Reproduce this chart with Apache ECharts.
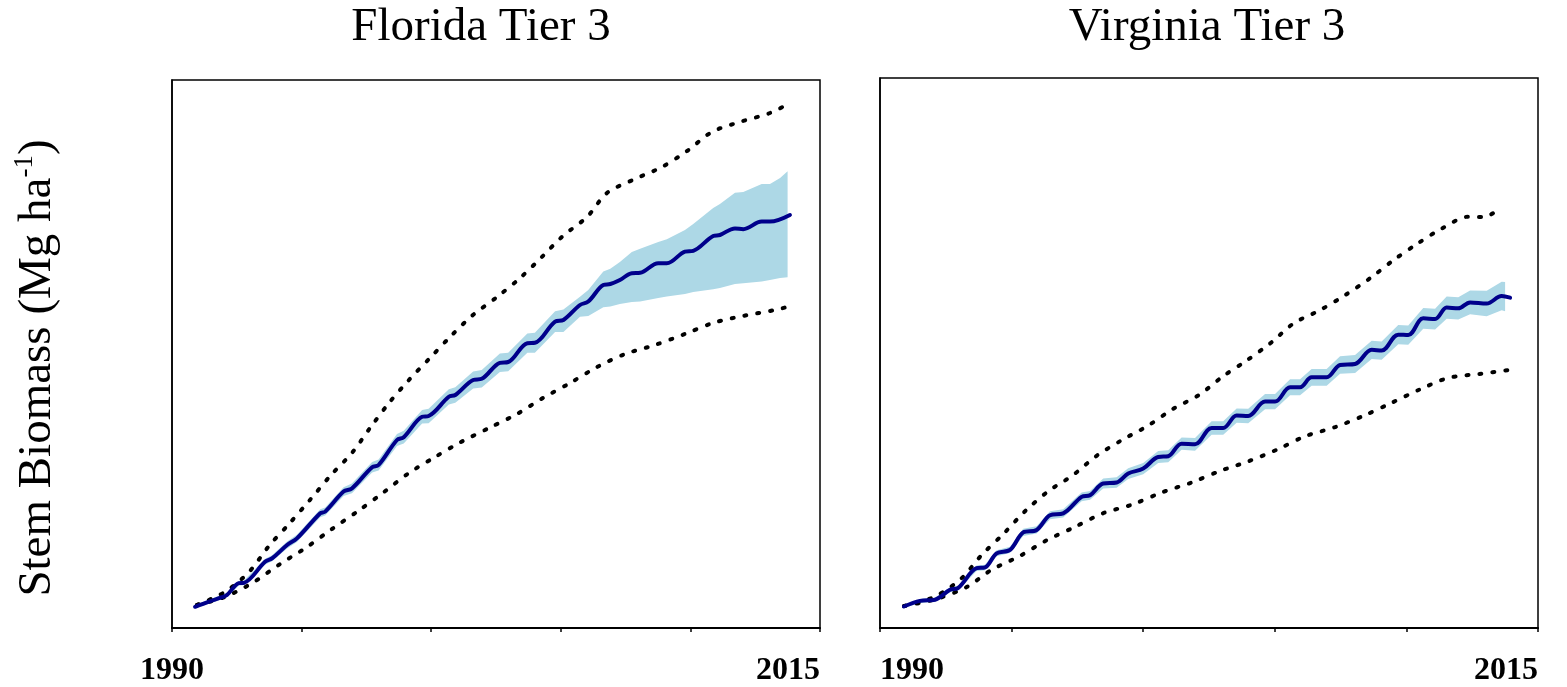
<!DOCTYPE html>
<html>
<head>
<meta charset="utf-8">
<script src="https://cdn.jsdelivr.net/npm/echarts@6/dist/echarts.min.js"></script>
<style>
html,body{margin:0;padding:0;background:#fff;}
#chart{width:1567px;height:687px;}
</style>
</head>
<body>
<div id="chart"></div>
<script>
// ---------------- DATA ----------------
const panelTitles = ['Florida Tier 3', 'Virginia Tier 3'];
const yAxisTitle = 'Stem Biomass (Mg ha';
const yAxisSup = '-1';
const xTickLabels = [1990, 2015];

// Florida: mean trajectory [year, biomass]
const flMean = [[1990.89,5.3],[1991.43,6.6],[1991.93,7.7],[1992.12,8.25],[1992.58,11.2],[1992.78,11.3],[1993.60,16.6],[1993.86,17.4],[1994.44,20.75],[1994.82,22.4],[1995.72,28.7],[1995.91,29.1],[1996.62,34.1],[1996.94,34.9],[1997.72,40.2],[1997.97,40.75],[1998.68,47.0],[1998.94,47.7],[1999.65,52.8],[1999.90,53.0],[2000.68,57.8],[2000.93,58.25],[2001.62,62.0],[2001.95,62.3],[2002.65,66.3],[2002.97,66.5],[2003.71,71.2],[2004.00,71.3],[2004.78,76.6],[2005.10,77.0],[2005.74,80.75],[2006.06,81.6],[2006.64,85.75],[2006.91,86.0],[2007.28,87.0],[2007.74,88.7],[2008.06,88.8],[2008.76,91.2],[2009.09,91.2],[2009.79,94.1],[2010.11,94.3],[2010.88,98.0],[2011.14,98.25],[2011.72,99.9],[2012.04,99.7],[2012.75,101.6],[2013.07,101.6],[2013.84,103.25]];
// Florida: uncertainty band [year, lower, upper]
const flBand = [[1990.89,4.9,5.7],[1991.43,6.1,7.1],[1991.93,7.2,8.3],[1992.12,7.7,8.8],[1992.58,10.6,11.8],[1992.78,10.7,11.9],[1993.60,15.9,17.3],[1993.86,16.7,18.2],[1994.44,19.9,21.6],[1994.82,21.5,23.3],[1995.72,27.7,29.7],[1995.91,28.1,30.1],[1996.62,33.0,35.2],[1996.94,33.7,36.1],[1997.72,38.9,41.5],[1997.97,39.4,42.1],[1998.68,45.5,48.5],[1998.94,46.1,49.3],[1999.65,51.1,54.5],[1999.90,51.2,54.8],[2000.68,55.9,59.7],[2000.93,56.3,60.2],[2001.62,59.9,64.1],[2001.95,60.1,64.5],[2002.65,64.0,68.6],[2002.97,64.2,68.8],[2003.71,68.8,73.6],[2004.00,68.8,73.8],[2004.78,74.0,79.2],[2005.10,74.0,79.6],[2005.74,77.8,82.8],[2006.06,78.0,84.5],[2006.64,80.2,89.1],[2006.91,80.4,89.8],[2007.28,81.0,91.5],[2007.74,81.5,94.0],[2008.06,81.6,94.8],[2008.76,82.5,96.5],[2009.09,82.9,97.2],[2009.79,83.5,99.5],[2010.11,84.0,101.0],[2010.88,84.7,105.0],[2011.14,85.0,106.0],[2011.72,86.0,108.8],[2012.04,86.2,109.0],[2012.75,86.6,111.0],[2013.07,87.0,111.0],[2013.46,87.5,112.5],[2013.75,87.7,114.2]];
// Florida: upper and lower reference (dotted)
const flUpper = [[1990.96,5.75],[1992.04,9.0],[1992.97,14.0],[1993.74,20.5],[1994.51,26.0],[1995.32,32.0],[1996.10,38.0],[1996.94,43.75],[1997.64,50.0],[1998.37,56.25],[1999.14,62.0],[1999.95,67.5],[2000.80,73.25],[2001.61,78.25],[2002.54,82.75],[2003.43,87.5],[2004.27,92.75],[2005.08,98.0],[2006.01,102.75],[2006.78,108.75],[2007.86,112.25],[2008.90,115.25],[2009.87,119.25],[2010.83,124.0],[2011.91,126.5],[2013.07,128.75],[2013.77,131.0]];
const flLower = [[1990.96,5.75],[1992.04,7.75],[1993.16,11.5],[1994.17,16.0],[1995.21,20.25],[1996.17,24.75],[1997.18,29.25],[1998.18,34.0],[1999.14,38.75],[2000.15,42.75],[2001.15,46.5],[2002.23,50.0],[2003.31,53.5],[2004.31,57.5],[2005.36,61.25],[2006.40,65.25],[2007.48,68.5],[2008.63,70.75],[2009.79,73.5],[2010.87,76.25],[2012.02,78.0],[2013.26,79.5],[2013.88,80.5]];

// Virginia
const vaMean = [[1990.91,5.4],[1991.52,6.8],[1992.09,7.1],[1992.66,9.6],[1992.96,10.0],[1993.67,15.0],[1993.99,15.2],[1994.43,18.75],[1994.94,19.6],[1995.44,24.0],[1995.95,24.6],[1996.46,28.3],[1996.96,28.75],[1997.66,32.9],[1997.98,33.3],[1998.48,36.25],[1998.99,36.5],[1999.43,38.75],[2000.00,40.0],[2000.57,42.9],[2000.95,43.1],[2001.46,46.25],[2001.97,46.1],[2002.60,50.2],[2003.04,50.2],[2003.55,53.3],[2003.99,53.2],[2004.63,56.8],[2005.01,56.8],[2005.58,60.4],[2005.96,60.4],[2006.40,62.9],[2006.97,62.9],[2007.48,66.0],[2008.05,66.25],[2008.68,69.8],[2009.06,69.6],[2009.69,73.6],[2010.07,73.5],[2010.64,77.7],[2011.09,77.5],[2011.53,80.4],[2011.97,80.2],[2012.42,81.7],[2013.05,81.4],[2013.62,83.3],[2013.94,82.9]];
const vaBand = [[1990.91,5.0,5.8],[1991.52,6.3,7.3],[1992.09,6.6,7.6],[1992.66,9.0,10.2],[1992.96,9.4,10.6],[1993.67,14.3,15.7],[1993.99,14.5,15.9],[1994.43,18.0,19.5],[1994.94,18.8,20.4],[1995.44,23.1,24.9],[1995.95,23.7,25.5],[1996.46,27.3,29.3],[1996.96,27.7,29.8],[1997.66,31.8,34.0],[1997.98,32.2,34.4],[1998.48,35.0,37.5],[1998.99,35.2,37.8],[1999.43,37.4,40.1],[2000.00,38.6,41.4],[2000.57,41.4,44.4],[2000.95,41.6,44.6],[2001.46,44.7,47.8],[2001.97,44.5,47.7],[2002.60,48.5,51.9],[2003.04,48.5,51.9],[2003.55,51.5,55.1],[2003.99,51.4,55.0],[2004.63,54.9,58.7],[2005.01,54.9,58.7],[2005.58,58.4,62.4],[2005.96,58.4,62.4],[2006.40,60.8,65.0],[2006.97,60.8,65.0],[2007.48,63.8,68.2],[2008.05,64.0,68.5],[2008.68,67.5,72.1],[2009.06,67.3,71.9],[2009.69,71.2,76.0],[2010.07,71.1,75.9],[2010.64,75.1,80.3],[2011.09,74.9,80.1],[2011.53,77.6,83.2],[2011.97,77.4,83.0],[2012.42,78.7,84.7],[2013.05,78.2,84.6],[2013.62,79.7,86.9],[2013.75,79.5,86.8]];
const vaUpper = [[1990.91,5.5],[1992.09,7.9],[1993.10,12.5],[1993.86,18.3],[1994.71,23.75],[1995.51,29.3],[1996.39,34.3],[1997.32,38.3],[1998.23,43.2],[1999.18,47.1],[2000.19,50.8],[2001.14,55.0],[2002.13,58.5],[2003.02,63.1],[2003.93,67.1],[2004.84,71.5],[2005.73,76.5],[2006.72,79.75],[2007.69,83.6],[2008.62,87.75],[2009.50,92.25],[2010.41,96.4],[2011.34,100.2],[2012.35,103.2],[2012.95,103.1],[2013.49,105.0]];
const vaLower = [[1990.91,5.5],[1992.15,7.3],[1993.27,10.2],[1994.24,14.6],[1995.32,18.1],[1996.33,22.0],[1997.37,25.25],[1998.46,28.75],[1999.60,31.0],[2000.70,34.0],[2001.84,36.5],[2002.92,39.4],[2003.99,41.8],[2005.10,44.8],[2006.15,48.1],[2007.29,50.4],[2008.36,53.2],[2009.44,56.5],[2010.49,59.8],[2011.59,62.75],[2012.77,63.75],[2013.94,64.75]];

// ---------------- CHART ----------------
const SERIF = '"Liberation Serif", "Times New Roman", "DejaVu Serif", serif';
const chart = echarts.init(document.getElementById('chart'), null, {renderer: 'canvas'});

function xAxisCfg(idx, minAlign) {
  return {
    type: 'value', gridIndex: idx, min: 1990, max: 2015, interval: 5,
    splitLine: {show: false},
    axisLine: {show: true, lineStyle: {color: '#000', width: 2}},
    axisTick: {show: true, length: 4, lineStyle: {color: '#000', width: 1.5}},
    axisLabel: {
      show: true, margin: 27, color: '#000', fontFamily: SERIF, fontWeight: 'bold', fontSize: 32,
      showMinLabel: true, showMaxLabel: true,
      alignMinLabel: minAlign, alignMaxLabel: 'right',
      formatter: function (v) { return xTickLabels.indexOf(v) >= 0 ? String(v) : ''; }
    }
  };
}
function yAxisCfg(idx, max) {
  return {
    type: 'value', gridIndex: idx, min: 0, max: max,
    splitLine: {show: false}, axisLabel: {show: false}, axisTick: {show: false},
    axisLine: {show: true, lineStyle: {color: '#000', width: 1.5}}
  };
}
function bandSeries(band, idx) {
  return {
    type: 'custom', xAxisIndex: idx, yAxisIndex: idx, silent: true, z: 1,
    data: band, encode: {x: 0, y: [1, 2]},
    renderItem: function (params, api) {
      if (params.dataIndex !== 0) return null;
      const pts = [];
      for (let i = 0; i < band.length; i++) pts.push(api.coord([band[i][0], band[i][2]]));
      for (let i = band.length - 1; i >= 0; i--) pts.push(api.coord([band[i][0], band[i][1]]));
      return {type: 'polygon', shape: {points: pts}, style: {fill: '#ADD8E6', stroke: null}};
    }
  };
}
function meanSeries(data, idx) {
  return {
    type: 'line', xAxisIndex: idx, yAxisIndex: idx, data: data, showSymbol: false,
    smooth: 0.35, z: 4, silent: true,
    lineStyle: {color: '#00008B', width: 4, cap: 'round', join: 'round'}
  };
}
function dotSeries(data, idx) {
  return {
    type: 'line', xAxisIndex: idx, yAxisIndex: idx, data: data, showSymbol: false,
    smooth: 0.3, z: 3, silent: true,
    lineStyle: {color: '#000', width: 4, type: [2, 11], cap: 'round'}
  };
}

const option = {
  animation: false,
  backgroundColor: '#fff',
  grid: [
    {left: 172, top: 80, width: 648, height: 548, show: true, borderColor: '#000', borderWidth: 1.5, backgroundColor: 'transparent'},
    {left: 880, top: 78, width: 658, height: 552, show: true, borderColor: '#000', borderWidth: 1.5, backgroundColor: 'transparent'}
  ],
  xAxis: [xAxisCfg(0, 'center'), xAxisCfg(1, 'left')],
  yAxis: [yAxisCfg(0, 137), yAxisCfg(1, 138)],
  series: [
    bandSeries(flBand, 0), dotSeries(flUpper, 0), dotSeries(flLower, 0), meanSeries(flMean, 0),
    bandSeries(vaBand, 1), dotSeries(vaUpper, 1), dotSeries(vaLower, 1), meanSeries(vaMean, 1)
  ],
  graphic: [
    {type: 'text', x: 481, y: 28, silent: true,
     style: {text: panelTitles[0], font: '47px ' + SERIF, fill: '#000', align: 'center', verticalAlign: 'middle', textAlign: 'center', textVerticalAlign: 'middle'}},
    {type: 'text', x: 1207, y: 28, silent: true,
     style: {text: panelTitles[1], font: '47px ' + SERIF, fill: '#000', align: 'center', verticalAlign: 'middle', textAlign: 'center', textVerticalAlign: 'middle'}},
    {type: 'text', x: 36, y: 368, rotation: Math.PI / 2, silent: true,
     style: {
       text: '{a|' + yAxisTitle + '}{s|' + yAxisSup + '}{a|)}',
       align: 'center', verticalAlign: 'middle', textAlign: 'center', textVerticalAlign: 'middle',
       rich: {
         a: {fontFamily: SERIF, fontSize: 47, lineHeight: 50, fill: '#000', color: '#000', verticalAlign: 'bottom'},
         s: {fontFamily: SERIF, fontSize: 27, lineHeight: 50, fill: '#000', color: '#000', verticalAlign: 'top', padding: [0, 0, 18, 0]}
       }
     }}
  ]
};
chart.setOption(option);
</script>
</body>
</html>
